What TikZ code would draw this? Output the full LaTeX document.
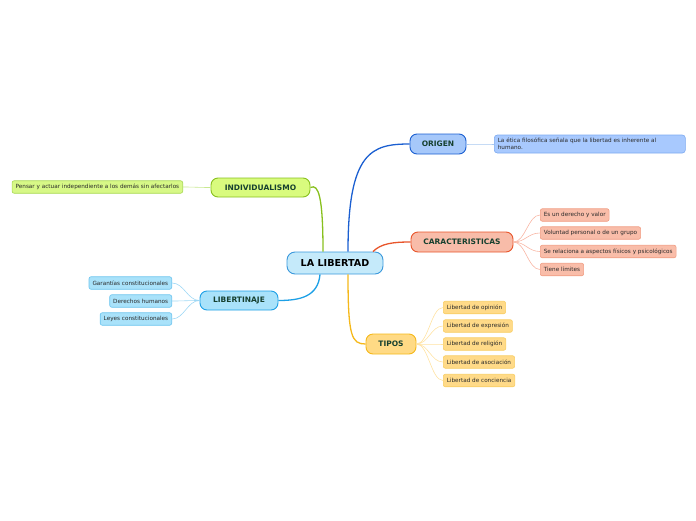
\documentclass[tikz,border=0pt]{standalone}
\usepackage{fontspec}
\setmainfont{DejaVu Sans}
\usetikzlibrary{calc}
\definecolor{txtmain}{HTML}{16402F}
\definecolor{txtleaf}{HTML}{2A2A2A}
\definecolor{cenF}{HTML}{C5EAFA}\definecolor{cenD}{HTML}{3A98DC}
\definecolor{oriF}{HTML}{A6C8FA}\definecolor{oriD}{HTML}{1B5FD1}
\definecolor{oriLF}{HTML}{A8C9FE}\definecolor{oriLD}{HTML}{7DAAF0}\definecolor{oriLC}{HTML}{A8C8F0}
\definecolor{carF}{HTML}{F8BCA9}\definecolor{carD}{HTML}{E8552B}
\definecolor{carLF}{HTML}{F9BDA9}\definecolor{carLD}{HTML}{F19C82}\definecolor{carLC}{HTML}{F8B5A3}
\definecolor{tipF}{HTML}{FFDA85}\definecolor{tipD}{HTML}{F5B81A}
\definecolor{tipLF}{HTML}{FFDA88}\definecolor{tipLD}{HTML}{F8CD62}\definecolor{tipLC}{HTML}{FFE2A2}
\definecolor{indF}{HTML}{D9FB7E}\definecolor{indD}{HTML}{88C01E}
\definecolor{indLF}{HTML}{D7F887}\definecolor{indLD}{HTML}{A8D852}\definecolor{indLC}{HTML}{C8E890}
\definecolor{libF}{HTML}{A9E2FA}\definecolor{libD}{HTML}{1DA0E6}
\definecolor{libLF}{HTML}{A9E2FA}\definecolor{libLD}{HTML}{6CC4EE}\definecolor{libLC}{HTML}{9FD8F5}
\tikzset{
  mainbox/.style={draw, line width=0.9pt, rounded corners=7pt, minimum height=20pt, inner sep=0pt,
    font=\fontsize{7.5}{8}\selectfont\bfseries, text=txtmain},
  leafbox/.style={draw, line width=0.6pt, rounded corners=2pt, minimum height=12.5pt, inner xsep=3.5pt, inner ysep=0pt,
    anchor=west, font=\fontsize{5.7}{6.5}\selectfont, text=txtleaf},
  branch/.style={line width=1.3pt},
  twig/.style={line width=0.6pt}
}
\begin{document}
\begin{tikzpicture}[x=1pt,y=-1pt]
\useasboundingbox (0,0) rectangle (696,520);
% central
\node[draw=cenD, fill=cenF, line width=0.9pt, rounded corners=8pt, minimum width=96pt, minimum height=22pt, inner sep=0pt,
  font=\fontsize{9.6}{10}\selectfont\bfseries, text=black] (c) at (335,263) {LA LIBERTAD};
% main nodes
\node[mainbox, draw=oriD, fill=oriF, minimum width=56pt] (ori) at (438,144) {ORIGEN};
\node[mainbox, draw=carD, fill=carF, minimum width=102pt] (car) at (462,242) {CARACTERISTICAS};
\node[mainbox, draw=tipD, fill=tipF, minimum width=50pt] (tip) at (391,344) {TIPOS};
\node[mainbox, draw=indD, fill=indF, minimum width=99pt, minimum height=19pt] (ind) at (260.5,187.5) {INDIVIDUALISMO};
\node[mainbox, draw=libD, fill=libF, minimum width=78pt, minimum height=19pt] (lib) at (239,300.5) {LIBERTINAJE};
% branches
\draw[branch, oriD] ($(c.north)+(13,0)$) .. controls ($(c.north)+(13,-100)$) and ($(ori.west)+(-38,0)$) .. (ori.west);
\draw[branch, carD] ($(c.north)+(38,0)$) .. controls ($(c.north)+(46,-8)$) and ($(car.west)+(-18,0)$) .. (car.west);
\draw[branch, tipD] ($(c.south)+(13,0)$) .. controls ($(c.south)+(13,62)$) and ($(tip.west)+(-14,0)$) .. (tip.west);
\draw[branch, indD] ($(c.north)+(-12,0)$) .. controls ($(c.north)+(-12,-55)$) and ($(ind.east)+(8,-4)$) .. (ind.east);
\draw[branch, libD] ($(c.south)+(-15,0)$) .. controls ($(c.south)+(-17,22)$) and ($(lib.east)+(22,0)$) .. (lib.east);
% origen leaf
\node[draw=oriLD, fill=oriLF, line width=0.6pt, rounded corners=3pt, anchor=west, minimum height=18pt, text width=184pt,
  inner xsep=3.5pt, inner ysep=0pt, align=left, font=\fontsize{5.7}{7}\selectfont, text=txtleaf] (o1) at (494,144)
  {La ética filosófica señala que la libertad es inherente al\\humano.};
\draw[twig, oriLC] (ori.east) .. controls ($(ori.east)+(12,0)$) and ($(o1.west)+(-12,0)$) .. (o1.west);
% caracteristicas leaves
\node[leafbox, draw=carLD, fill=carLF] (k1) at (540,215) {Es un derecho y valor};
\node[leafbox, draw=carLD, fill=carLF] (k2) at (540,233) {Voluntad personal o de un grupo};
\node[leafbox, draw=carLD, fill=carLF] (k3) at (540,251.5) {Se relaciona a aspectos físicos y psicológicos};
\node[leafbox, draw=carLD, fill=carLF] (k4) at (540,269.5) {Tiene límites};
\foreach \k in {k1,k2,k3,k4}
  \draw[twig, carLC] (car.east) .. controls ($(car.east)+(12,0)$) and ($(\k.west)+(-12,0)$) .. (\k.west);
% tipos leaves
\node[leafbox, draw=tipLD, fill=tipLF] (t1) at (443,307.5) {Libertad de opinión};
\node[leafbox, draw=tipLD, fill=tipLF] (t2) at (443,326) {Libertad de expresión};
\node[leafbox, draw=tipLD, fill=tipLF] (t3) at (443,344) {Libertad de religión};
\node[leafbox, draw=tipLD, fill=tipLF] (t4) at (443,362) {Libertad de asociación};
\node[leafbox, draw=tipLD, fill=tipLF] (t5) at (443,380.5) {Libertad de conciencia};
\foreach \k in {t1,t2,t3,t4,t5}
  \draw[twig, tipLC] (tip.east) .. controls ($(tip.east)+(12,0)$) and ($(\k.west)+(-12,0)$) .. (\k.west);
% individualismo leaf
\node[leafbox, draw=indLD, fill=indLF, anchor=east] (i1) at (183,187) {Pensar y actuar independiente a los demás sin afectarlos};
\draw[twig, indLC] (ind.west) .. controls ($(ind.west)+(-12,0)$) and ($(i1.east)+(12,0)$) .. (i1.east);
% libertinaje leaves
\node[leafbox, draw=libLD, fill=libLF, anchor=east] (l1) at (172,283) {Garantías constitucionales};
\node[leafbox, draw=libLD, fill=libLF, anchor=east] (l2) at (172,301) {Derechos humanos};
\node[leafbox, draw=libLD, fill=libLF, anchor=east] (l3) at (172,319) {Leyes constitucionales};
\foreach \k in {l1,l2,l3}
  \draw[twig, libLC] (lib.west) .. controls ($(lib.west)+(-12,0)$) and ($(\k.east)+(12,0)$) .. (\k.east);
\end{tikzpicture}
\end{document}
